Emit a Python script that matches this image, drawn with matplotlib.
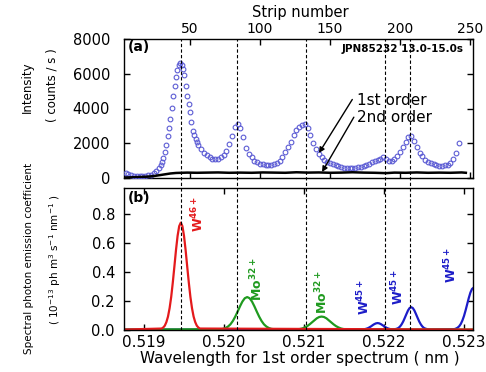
import matplotlib
matplotlib.use('Agg')
import matplotlib.pyplot as plt

plt.rcParams['font.family'] = ['DejaVu Sans']
plt.rcParams['mathtext.fontset'] = 'dejavusans'

# ---------------- data ----------------
# (a) 1st order spectrum: strip number vs intensity (counts/s)
strip_first = [4, 6, 8, 10, 12, 14, 16, 18, 20, 22, 24, 26,
               28, 29, 30, 31, 32, 33, 34, 35, 36, 37, 38, 39, 40, 41, 42,
               43, 44, 45, 46, 47, 48, 49, 50, 51, 52, 53, 54, 55, 56,
               58, 60, 62, 64, 66, 68, 70, 72, 74, 76, 78, 80, 82, 84, 86,
               88, 90, 92, 94, 96, 98, 100, 102, 104, 106, 108, 110, 112,
               114, 116, 118, 120, 122, 124, 126, 128, 130, 132, 134, 136,
               138, 140, 142, 144, 146, 148, 150, 152, 154, 156, 158, 160,
               162, 164, 166, 168, 170, 172, 174, 176, 178, 180, 182, 184,
               186, 188, 190, 192, 194, 196, 198, 200, 202, 204, 206, 208,
               210, 212, 214, 216, 218, 220, 222, 224, 226, 228, 230, 232,
               234, 236, 238, 240, 242]
intensity_first = [300, 220, 160, 140, 125, 120, 120, 125, 150, 200, 300, 420,
                   580, 720, 900, 1150, 1500, 1900, 2400, 2900, 3400, 4050, 4700, 5300, 5800, 6200, 6500,
                   6600, 6500, 6250, 5900, 5300, 4700, 4250, 3800, 3200, 2700, 2450, 2250, 2050, 1900,
                   1650, 1450, 1300, 1180, 1100, 1080, 1100, 1180, 1300, 1550, 1950, 2400, 2950, 3100, 2850,
                   2350, 1750, 1400, 1180, 1000, 900, 830, 790, 760, 750, 770, 820, 890,
                   1000, 1200, 1500, 1800, 2050, 2450, 2750, 2950, 3050, 3100, 2850, 2450,
                   2000, 1650, 1380, 1200, 1030, 930, 850, 780, 720, 680, 630, 580,
                   550, 550, 560, 580, 610, 650, 700, 750, 820, 900, 970, 1040,
                   1120, 1180, 1120, 950, 950, 1080, 1280, 1470, 1800, 2100, 2350, 2430,
                   2150, 1760, 1450, 1250, 1050, 920, 850, 780, 730, 700, 700, 720,
                   750, 850, 1080, 1450, 2000]

# (a) 2nd order spectrum
strip_second = [3, 8, 14, 20, 24, 28, 32, 36, 40, 44, 48, 55, 62, 70, 78, 86,
                94, 102, 110, 118, 126, 134, 142, 150, 158, 166, 174, 182,
                190, 196, 204, 212, 220, 228, 236, 244, 247]
intensity_second = [30, 40, 55, 80, 110, 160, 210, 260, 290, 300, 310, 300, 310,
                    320, 300, 310, 300, 320, 310, 300, 330, 310, 320, 300, 310,
                    330, 310, 300, 280, 310, 300, 320, 300, 310, 300, 320, 300]

# line positions (nm)
line_wavelengths = [0.51946, 0.52016, 0.52103, 0.52201, 0.52233]

# (b) spectral photon emission coefficients (1e-13 ph m^3 s^-1 nm^-1)
w46_wl = [0.51875, 0.51922, 0.51924, 0.51926, 0.51928, 0.51930, 0.51932, 0.51934,
          0.51936, 0.51938, 0.51940, 0.51942, 0.51944, 0.51946, 0.51948, 0.51950,
          0.51952, 0.51954, 0.51956, 0.51958, 0.51960, 0.51962, 0.51964, 0.51966,
          0.51968, 0.51970, 0.52312]
w46_pec = [0, 0.007, 0.014, 0.027, 0.052, 0.090, 0.148, 0.226, 0.326, 0.437, 0.551,
           0.649, 0.716, 0.740, 0.716, 0.649, 0.551, 0.437, 0.326, 0.226, 0.148,
           0.090, 0.052, 0.027, 0.014, 0.007, 0]

mo32_wl = [0.51875,
           0.51996, 0.51999, 0.52002, 0.52005, 0.52008, 0.52011, 0.52014, 0.52017,
           0.52020, 0.52023, 0.52026, 0.52029, 0.52032, 0.52035, 0.52038, 0.52041,
           0.52044, 0.52047, 0.52050, 0.52053, 0.52056, 0.52059, 0.52062,
           0.52092, 0.52095, 0.52098, 0.52101, 0.52104, 0.52107, 0.52110, 0.52113,
           0.52116, 0.52119, 0.52122, 0.52125, 0.52128, 0.52131, 0.52134, 0.52137,
           0.52140, 0.52143, 0.52146, 0.52149, 0.52152,
           0.52312]
mo32_pec = [0,
            0.0025, 0.005, 0.011, 0.021, 0.036, 0.059, 0.089, 0.124, 0.161, 0.194,
            0.217, 0.225, 0.217, 0.194, 0.161, 0.124, 0.089, 0.059, 0.036, 0.021,
            0.011, 0.005, 0.0025,
            0.002, 0.004, 0.008, 0.015, 0.024, 0.036, 0.050, 0.064, 0.078, 0.087,
            0.090, 0.087, 0.078, 0.064, 0.050, 0.036, 0.024, 0.015, 0.008, 0.004,
            0.002,
            0]

w45_wl = [0.51875,
          0.52172, 0.52174, 0.52176, 0.52178, 0.52180, 0.52182, 0.52184, 0.52186,
          0.52188, 0.52190, 0.52192, 0.52194, 0.52196, 0.52198, 0.52200, 0.52202,
          0.52204, 0.52206, 0.52208, 0.52210,
          0.52214, 0.52216, 0.52218, 0.52220, 0.52222, 0.52224, 0.52226, 0.52228,
          0.52230, 0.52232, 0.52234, 0.52236, 0.52238, 0.52240, 0.52242, 0.52244,
          0.52246, 0.52248, 0.52250, 0.52252, 0.52254, 0.52256,
          0.52288, 0.52290, 0.52292, 0.52294, 0.52296, 0.52298, 0.52300, 0.52302,
          0.52304, 0.52306, 0.52308, 0.52310, 0.52312]
w45_pec = [0,
           0.001, 0.002, 0.003, 0.006, 0.010, 0.016, 0.023, 0.031, 0.038, 0.043,
           0.045, 0.043, 0.038, 0.031, 0.023, 0.016, 0.010, 0.006, 0.003, 0.002,
           0.003, 0.006, 0.011, 0.021, 0.036, 0.056, 0.081, 0.107, 0.132, 0.149,
           0.155, 0.149, 0.132, 0.107, 0.081, 0.056, 0.036, 0.021, 0.011, 0.006,
           0.003, 0.001,
           0.003, 0.007, 0.013, 0.023, 0.039, 0.063, 0.094, 0.133, 0.176, 0.219,
           0.256, 0.281, 0.290]

ion_labels = [r'$\mathbf{W^{46+}}$', r'$\mathbf{Mo^{32+}}$', r'$\mathbf{Mo^{32+}}$',
              r'$\mathbf{W^{45+}}$', r'$\mathbf{W^{45+}}$', r'$\mathbf{W^{45+}}$']
ion_label_wl = [0.519675, 0.520412, 0.521225, 0.52175, 0.522175, 0.522838]
ion_label_y = [0.80, 0.345, 0.255, 0.228, 0.297, 0.448]

strip_ticks = [50, 100, 150, 200, 250]
intensity_ticks = [0, 2000, 4000, 6000, 8000]
wl_ticks = [0.519, 0.520, 0.521, 0.522, 0.523]
wl_ticklabels = ['0.519', '0.520', '0.521', '0.522', '0.523']
pec_ticks = [0.0, 0.2, 0.4, 0.6, 0.8]
pec_ticklabels = ['0.0', '0.2', '0.4', '0.6', '0.8']

RED = '#e41a1c'
GREEN = '#1f9a1f'
BLUE = '#1c1cc8'
ion_colors = [RED, GREEN, GREEN, BLUE, BLUE, BLUE]

# ---------------- figure ----------------
W, H = 486, 372
fig = plt.figure(figsize=(W / 100, H / 100), dpi=100)

L, R = 124, 473
ax_a = fig.add_axes([L / W, (H - 178) / H, (R - L) / W, 139 / H])
ax_b = fig.add_axes([L / W, (H - 330) / H, (R - L) / W, 142 / H])

for ax in (ax_a, ax_b):
    for s in ax.spines.values():
        s.set_linewidth(1.0)

# panel (a)
ax_a.plot(strip_first, intensity_first, 'o', mfc='none', mec='#5c5cd4',
          ms=3.4, mew=0.8, zorder=3)
ax_a.plot(strip_second, intensity_second, color='black', lw=1.8, zorder=4)
ax_a.set_xlim(2.86, 252.1)
ax_a.set_ylim(0, 8000)
ax_a.set_xticks(strip_ticks)
ax_a.set_yticks(intensity_ticks)
ax_a.tick_params(axis='x', which='both', direction='in', top=True, bottom=True,
                 labeltop=True, labelbottom=False, length=4, width=1,
                 labelsize=10, pad=2)
ax_a.tick_params(axis='y', which='both', direction='in', left=True, right=True,
                 length=4, width=1, labelsize=10.5, pad=10)

ax_a.annotate('', xy=(142.1, 1439), xytext=(165.9, 4520),
              arrowprops=dict(arrowstyle='-|>', color='black', lw=1.0,
                              mutation_scale=8, shrinkA=0, shrinkB=0))
ax_a.annotate('', xy=(144.3, 345), xytext=(167.0, 3500),
              arrowprops=dict(arrowstyle='-|>', color='black', lw=1.0,
                              mutation_scale=8, shrinkA=0, shrinkB=0))
ax_a.text(169.5, 4489, '1st order', fontsize=11, ha='left', va='center')
ax_a.text(169.5, 3510, '2nd order', fontsize=11, ha='left', va='center')
ax_a.text(0.01, 0.94, '(a)', transform=ax_a.transAxes, fontsize=10,
          fontweight='bold', ha='left', va='center')
ax_a.text(0.972, 0.925, 'JPN85232 13.0-15.0s', transform=ax_a.transAxes,
          fontsize=7.5, fontweight='bold', ha='right', va='center')

# panel (b)
ax_b.plot(w45_wl, w45_pec, color=BLUE, lw=1.6)
ax_b.plot(mo32_wl, mo32_pec, color=GREEN, lw=1.6)
ax_b.plot(w46_wl, w46_pec, color=RED, lw=1.6)
ax_b.set_xlim(0.51875, 0.5231125)
ax_b.set_ylim(-0.003, 0.98)
ax_b.set_xticks(wl_ticks)
ax_b.set_xticklabels(wl_ticklabels)
ax_b.set_yticks(pec_ticks)
ax_b.set_yticklabels(pec_ticklabels)
ax_b.tick_params(axis='x', which='both', direction='in', top=True, bottom=True,
                 length=4, width=1, labelsize=11, pad=3.5)
ax_b.tick_params(axis='y', which='both', direction='in', left=True, right=True,
                 length=4, width=1, labelsize=10.5, pad=6.5)

for lab, x, y, c in zip(ion_labels, ion_label_wl, ion_label_y, ion_colors):
    ax_b.text(x, y, lab, color=c, rotation=90, ha='center', va='center',
              fontsize=9)

ax_b.text(0.01, 0.93, '(b)', transform=ax_b.transAxes, fontsize=10,
          fontweight='bold', ha='left', va='center')

# dashed line markers spanning both panels
ymax_span = (330 - 39) / 142
for wl in line_wavelengths:
    ax_b.axvline(wl, ymin=0, ymax=ymax_span, clip_on=False, color='black',
                 lw=0.8, ls=(0, (3, 2)), zorder=5)

# axis titles
fig.text(300 / W, 1 - 16.5 / H, 'Strip number', fontsize=10.5, ha='center',
         va='baseline')
fig.text(300 / W, 1 - 358 / H, 'Wavelength for 1st order spectrum ( nm )',
         fontsize=11, ha='center', va='center')
fig.text(27 / W, 1 - 87 / H, 'Intensity', fontsize=8.5, rotation=90,
         ha='center', va='center')
fig.text(52 / W, 1 - 85 / H, '( counts / s )', fontsize=8.5, rotation=90,
         ha='center', va='center')
fig.text(29 / W, 1 - 258 / H, 'Spectral photon emission coefficient',
         fontsize=7.5, rotation=90, ha='center', va='center')
fig.text(55 / W, 1 - 260 / H,
         r'( $10^{-13}$ ph m$^{3}$ s$^{-1}$ nm$^{-1}$ )',
         fontsize=7.5, rotation=90, ha='center', va='center')

fig.savefig('out.png', dpi=100)
